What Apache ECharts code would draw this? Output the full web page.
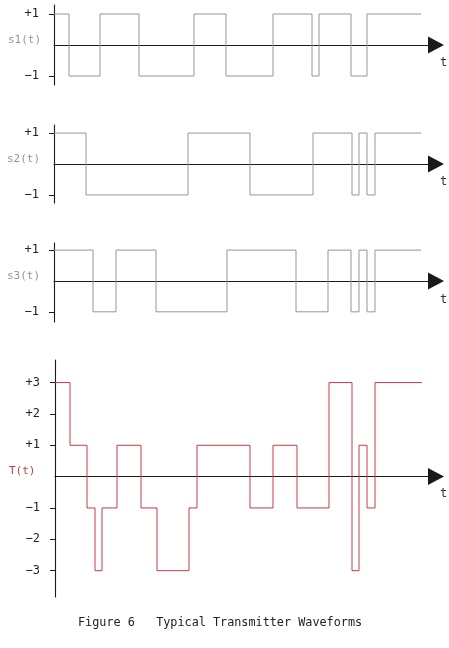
<!DOCTYPE html>
<html>
<head>
<meta charset="utf-8">
<script src="https://cdn.jsdelivr.net/npm/echarts@6/dist/echarts.min.js"></script>
<style>
html,body{margin:0;padding:0;background:#fff;}
#chart{width:449px;height:648px;}
</style>
</head>
<body>
<div id="chart"></div>
<script>
// transition times (arbitrary time units along t) and levels held from each time
const s1Times  = [0, 15, 46, 85, 140, 172, 219, 258, 265, 297, 313, 367];
const s1Levels = [1, -1, 1, -1, 1, -1, 1, -1, 1, -1, 1, 1];
const s2Times  = [0, 32, 134, 196, 259, 298, 305, 313, 321, 367];
const s2Levels = [1, -1, 1, -1, 1, -1, 1, -1, 1, 1];
const s3Times  = [0, 39, 62, 102, 173, 242, 274, 297, 305, 313, 321, 367];
const s3Levels = [1, -1, 1, -1, 1, -1, 1, -1, 1, -1, 1, 1];
const tTimes   = [0, 15, 32, 40, 47, 62, 86, 102, 134, 142, 195, 218, 242, 274, 297, 304, 312, 320, 367];
const tLevels  = [3, 1, -1, -3, -1, 1, -1, -3, -1, 1, -1, 1, -1, 3, -3, 1, -1, 3, 3];

const smallTicks = [1, -1];
const smallTickLabels = ['+1', '\u22121'];
const bigTicks = [3, 2, 1, -1, -2, -3];
const bigTickLabels = ['+3', '+2', '+1', '\u22121', '\u22122', '\u22123'];
const names = ['s1(t)', 's2(t)', 's3(t)', 'T(t)'];
const caption = 'Figure 6   Typical Transmitter Waveforms';

const FONT = '"DejaVu Sans Mono", monospace';
const GREY = '#8f9895';
const RED = '#c43c44';
const AXIS = '#1a1a1a';

function pts(times, levels) {
  return times.map((t, i) => [t, levels[i]]);
}

const panels = [
  {top: 5,   height: 80,  min: -1.29, max: 1.29, left: 54, ticks: smallTicks, labels: smallTickLabels, times: s1Times, levels: s1Levels, color: GREY},
  {top: 125, height: 78,  min: -1.26, max: 1.26, left: 54, ticks: smallTicks, labels: smallTickLabels, times: s2Times, levels: s2Levels, color: GREY},
  {top: 243, height: 79,  min: -1.33, max: 1.23, left: 54, ticks: smallTicks, labels: smallTickLabels, times: s3Times, levels: s3Levels, color: GREY},
  {top: 360, height: 237, min: -3.84, max: 3.72, left: 55, ticks: bigTicks, labels: bigTickLabels, times: tTimes, levels: tLevels, color: RED}
];

const grid = [], xAxis = [], yAxis = [], series = [];
panels.forEach((p, i) => {
  grid.push({left: p.left, top: p.top, height: p.height, width: 436 - p.left, containLabel: false});
  xAxis.push({
    type: 'value', gridIndex: i, min: 0, max: 436 - p.left,
    axisLine: {show: true, onZero: true, symbol: ['none', 'triangle'], symbolSize: [17, 16],
      lineStyle: {color: AXIS, width: 1.1}},
    axisTick: {show: false}, axisLabel: {show: false}, splitLine: {show: false}
  });
  const labelMap = {};
  p.ticks.forEach((v, k) => labelMap[v] = p.labels[k]);
  yAxis.push({
    type: 'value', gridIndex: i, min: p.min, max: p.max,
    axisLine: {show: true, onZero: false, lineStyle: {color: AXIS, width: 1.1}},
    axisTick: {show: true, length: 5, customValues: p.ticks, lineStyle: {color: AXIS}},
    axisLabel: {show: true, customValues: p.ticks, margin: 15, color: '#222',
      fontFamily: FONT, fontSize: 12,
      formatter: v => labelMap[Math.round(v)] || ''},
    splitLine: {show: false}
  });
  series.push({
    type: 'line', xAxisIndex: i, yAxisIndex: i, step: 'end', symbol: 'none',
    data: pts(p.times, p.levels),
    lineStyle: {color: p.color, width: 1},
    animation: false, silent: true
  });
});

const nameY = [42, 161, 278, 473];
const nameX = [8, 7, 7, 9];
const tY = [65, 184, 302, 496];
const graphic = [];
names.forEach((n, i) => {
  graphic.push({type: 'text', left: nameX[i], top: nameY[i] - 7,
    style: {text: n, fill: i === 3 ? RED : GREY, font: '11px ' + FONT}});
  graphic.push({type: 'text', left: 440, top: tY[i] - 8,
    style: {text: 't', fill: '#333', font: '12px ' + FONT}});
});
graphic.push({type: 'text', left: 78, top: 617,
  style: {text: caption, fill: '#222', font: '11.8px ' + FONT}});

const chart = echarts.init(document.getElementById('chart'), null, {renderer: 'canvas'});
chart.setOption({animation: false, grid, xAxis, yAxis, series, graphic});
</script>
</body>
</html>
